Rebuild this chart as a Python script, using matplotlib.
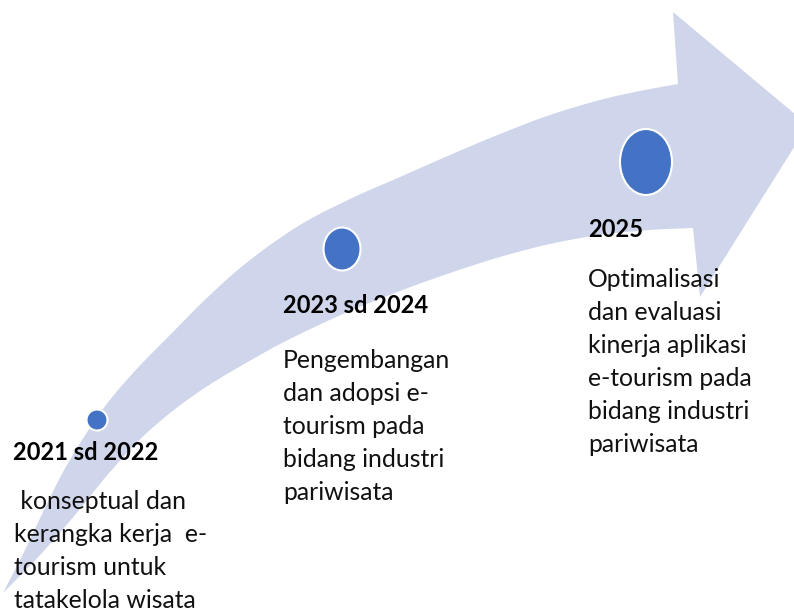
import numpy as np
import matplotlib
matplotlib.use("Agg")
import matplotlib.pyplot as plt
from matplotlib.patches import Polygon, Ellipse

# ---- content ----
periods = ["2021 sd 2022", "2023 sd 2024", "2025"]
descriptions = [
    [" konseptual dan", "kerangka kerja  e-", "tourism untuk", "tatakelola wisata"],
    ["Pengembangan", "dan adopsi e-", "tourism pada", "bidang industri", "pariwisata"],
    ["Optimalisasi", "dan evaluasi", "kinerja aplikasi", "e-tourism pada", "bidang industri", "pariwisata"],
]

# ---- layout (pixel coordinates, y downward) ----
W, H = 794, 613
upper_edge = [(3, 593), (25, 550), (45, 508), (67, 465), (100, 413), (133, 373), (170, 335),
              (210, 295), (250, 260), (300, 225), (350, 199), (400, 177), (450, 155),
              (500, 134), (550, 115), (600, 100), (640, 91), (678, 84)]
lower_edge = [(3, 593), (40, 555), (75, 515), (110, 472), (150, 430), (200, 391), (260, 355),
              (300, 334), (350, 311), (400, 291), (450, 273), (500, 257), (550, 244),
              (600, 235), (650, 230), (693, 228)]
head = [(678, 84), (673, 12), (808, 125), (700, 297), (693, 228)]

dot_centers = [(97, 420), (342, 249), (646, 162)]
dot_sizes = [(21, 21), (37, 43), (52, 66)]
title_pos = [(13, 460), (283, 313), (588, 237)]
body_first = [(14, 509), (283, 368), (588, 287)]
line_step = 33

ARROW = "#CFD5EA"
DOT = "#4472C4"


def catmull(pts, n=16):
    pts = np.asarray(pts, float)
    P = np.vstack([pts[0], pts, pts[-1]])
    out = []
    t = np.linspace(0, 1, n, endpoint=False)[:, None]
    for i in range(1, len(P) - 2):
        p0, p1, p2, p3 = P[i - 1], P[i], P[i + 1], P[i + 2]
        out.append(0.5 * ((2 * p1) + (-p0 + p2) * t + (2 * p0 - 5 * p1 + 4 * p2 - p3) * t ** 2
                          + (-p0 + 3 * p1 - 3 * p2 + p3) * t ** 3))
    out.append(pts[-1][None])
    return np.vstack(out)


fig = plt.figure(figsize=(W / 100, H / 100), dpi=100)
ax = fig.add_axes([0, 0, 1, 1])
ax.set_xlim(0, W)
ax.set_ylim(H, 0)
ax.axis("off")

up = catmull(upper_edge)
lo = catmull(lower_edge)[::-1]
outline = np.vstack([up, np.asarray(head[1:4], float), lo])
ax.add_patch(Polygon(outline, closed=True, facecolor=ARROW, edgecolor="none", zorder=1))

for (cx, cy), (w, h) in zip(dot_centers, dot_sizes):
    ax.add_patch(Ellipse((cx, cy), w, h, facecolor=DOT, edgecolor="white", lw=1.5, zorder=3))

FONT = ["Lato", "DejaVu Sans"]
for (tx, ty), label in zip(title_pos, periods):
    ax.text(tx, ty, label, fontsize=17, fontweight="bold", family=FONT,
            ha="left", va="baseline", color="black", zorder=4)

for (bx, by), lines in zip(body_first, descriptions):
    for i, line in enumerate(lines):
        ax.text(bx, by + i * line_step, line, fontsize=17.8, family=FONT,
                ha="left", va="baseline", color="#111111", zorder=4)

fig.savefig("out.png", dpi=100)
